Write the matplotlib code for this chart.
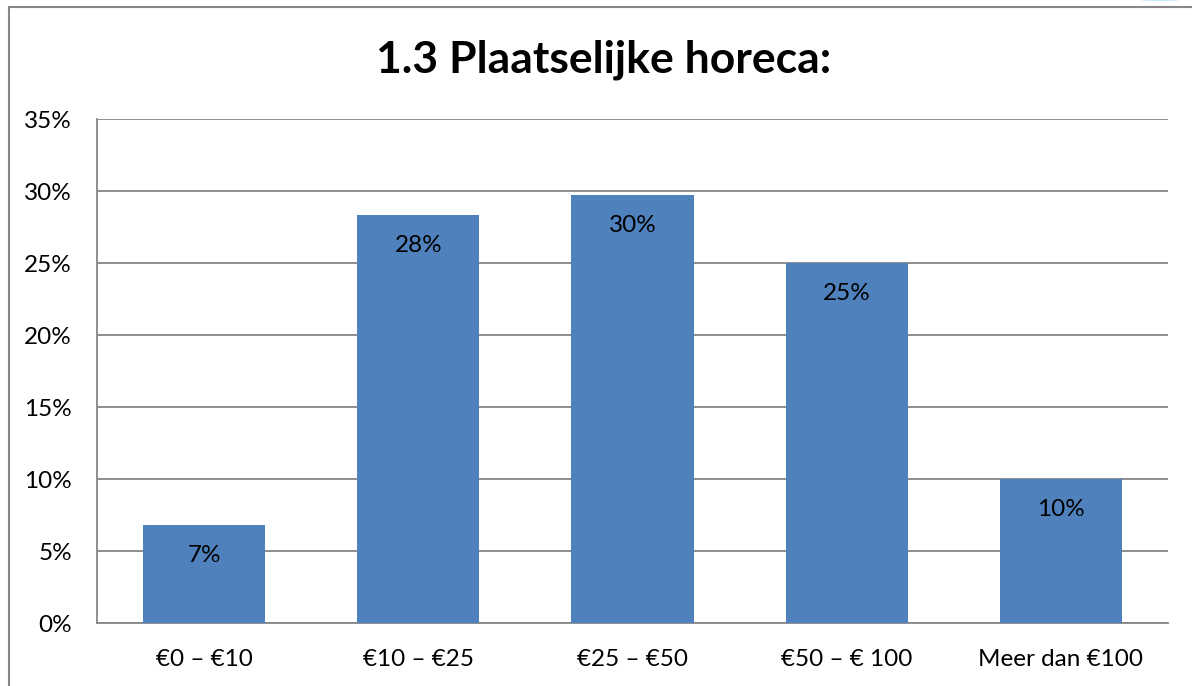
import matplotlib
matplotlib.use("Agg")
import matplotlib.pyplot as plt
from matplotlib.patches import Ellipse

categories = ["€0 – €10", "€10 – €25", "€25 – €50", "€50 – € 100", "Meer dan €100"]
values = [6.8, 28.3, 29.7, 25.0, 10.0]
labels = ["7%", "28%", "30%", "25%", "10%"]
yticks = [0, 5, 10, 15, 20, 25, 30, 35]
ytick_labels = ["0%", "5%", "10%", "15%", "20%", "25%", "30%", "35%"]
title = "1.3 Plaatselijke horeca:"

plt.rcParams['font.family'] = ['Lato', 'DejaVu Sans']

fig = plt.figure(figsize=(11.92, 6.86), dpi=100)
W, H = 1192, 686
ax = fig.add_axes([97 / W, 1 - 623 / H, (1168 - 97) / W, (623 - 119) / H])

bar_color = "#4F81BD"
grid_color = "#868686"
fs = 17.5
x = list(range(len(categories)))
ax.bar(x, values, width=0.57, color=bar_color, zorder=3)
for xi, v, lab in zip(x, values, labels):
    ax.text(xi, v - 2.1, lab, ha="center", va="center", fontsize=fs, color="black", zorder=4)

ax.set_xlim(-0.5, len(categories) - 0.5)
ax.set_ylim(0, 35)
ax.set_yticks(yticks)
ax.set_yticklabels(ytick_labels, fontsize=fs)
ax.set_xticks(x)
ax.set_xticklabels(categories, fontsize=fs)
ax.yaxis.grid(True, color=grid_color, linewidth=1.3, zorder=0)
ax.set_axisbelow(True)
for s in ["top", "right"]:
    ax.spines[s].set_visible(False)
for s in ["left", "bottom"]:
    ax.spines[s].set_color(grid_color)
    ax.spines[s].set_linewidth(1.3)
ax.tick_params(axis="x", length=0, pad=19)
ax.tick_params(axis="y", length=0, pad=18)

fig.text(604 / W, 1 - 60 / H, title, ha="center", va="center", fontsize=32, fontweight="bold")

# figure border (left and top visible)
fig.add_artist(plt.Line2D([8.5 / W, 8.5 / W], [0, 1 - 6.5 / H], color=grid_color, linewidth=1.5))
fig.add_artist(plt.Line2D([8.5 / W, 1], [1 - 6.5 / H, 1 - 6.5 / H], color=grid_color, linewidth=1.5))
# small cyan arc artifact at top right
fig.add_artist(Ellipse((1160 / W, 1 + 2 / H), 60 / W, 6 / H, facecolor="#BDEBF7", edgecolor="none"))

fig.savefig("out.png", dpi=100)
